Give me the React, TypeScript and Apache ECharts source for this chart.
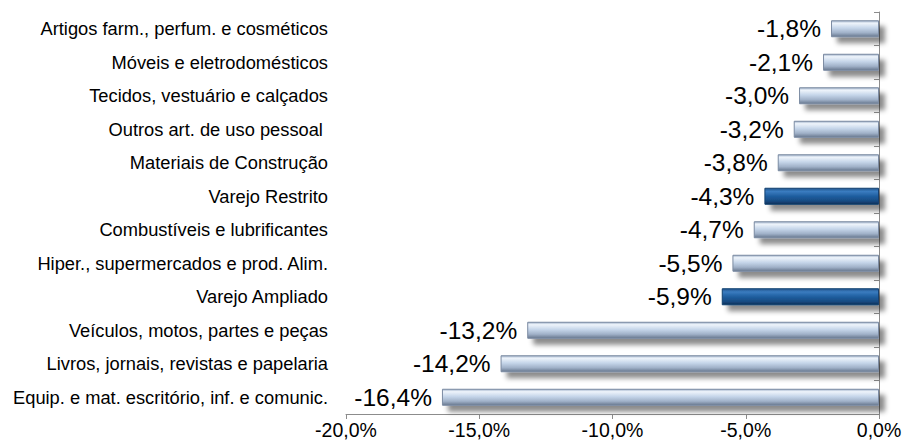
import React, { useEffect, useRef } from "react";
import * as echarts from "echarts";

const categories = [
  "Artigos farm., perfum. e cosméticos",
  "Móveis e eletrodomésticos",
  "Tecidos, vestuário e calçados",
  "Outros art. de uso pessoal ",
  "Materiais de Construção",
  "Varejo Restrito",
  "Combustíveis e lubrificantes",
  "Hiper., supermercados e prod. Alim.",
  "Varejo Ampliado",
  "Veículos, motos, partes e peças",
  "Livros, jornais, revistas e papelaria",
  "Equip. e mat. escritório, inf. e comunic.",
];
const values = [-1.8, -2.1, -3.0, -3.2, -3.8, -4.3, -4.7, -5.5, -5.9, -13.2, -14.2, -16.4];
const highlighted = ["Varejo Restrito", "Varejo Ampliado"];

const fmt = (v: number) => v.toFixed(1).replace(".", ",") + "%";
const FONT = "'Liberation Sans', Arial, sans-serif";

const lightGrad = new echarts.graphic.LinearGradient(0, 0, 0, 1, [
  { offset: 0, color: "#9fb1c9" },
  { offset: 0.15, color: "#eef4fb" },
  { offset: 0.45, color: "#c6d6ea" },
  { offset: 0.75, color: "#a0b1c8" },
  { offset: 1, color: "#67778e" },
]);
const darkGrad = new echarts.graphic.LinearGradient(0, 0, 0, 1, [
  { offset: 0, color: "#23558c" },
  { offset: 0.2, color: "#3a7cc0" },
  { offset: 0.5, color: "#1f5e9f" },
  { offset: 0.8, color: "#174b82" },
  { offset: 1, color: "#0d2f57" },
]);

export default function App() {
  const ref = useRef<HTMLDivElement>(null);
  useEffect(() => {
    if (!ref.current) return;
    const chart = echarts.init(ref.current, undefined, { renderer: "svg" });
    chart.setOption({
      animation: false,
      backgroundColor: "#ffffff",
      grid: { left: 346, right: 26, top: 12, bottom: 33 },
      xAxis: {
        type: "value",
        min: -20,
        max: 0,
        interval: 5,
        splitLine: { show: false },
        axisLine: { show: true, onZero: false, lineStyle: { color: "#8c8c8c" } },
        axisTick: { show: true, length: 5, lineStyle: { color: "#8c8c8c" } },
        axisLabel: {
          formatter: (v: number) => fmt(v),
          color: "#000",
          fontSize: 19.5,
          fontFamily: FONT,
          margin: 6,
        },
      },
      yAxis: [
        {
          type: "category",
          data: categories,
          inverse: true,
          position: "left",
          axisLine: { show: false, onZero: false },
          axisTick: { show: false },
          axisLabel: {
            color: "#000",
            fontSize: 18.3,
            fontFamily: FONT,
            margin: 18,
          },
        },
        {
          type: "category",
          data: categories,
          inverse: true,
          position: "right",
          axisLine: { show: true, onZero: false, lineStyle: { color: "#8c8c8c" } },
          axisTick: { show: true, inside: true, length: 5, lineStyle: { color: "#8c8c8c" } },
          axisLabel: { show: false },
        },
      ],
      series: [
        {
          type: "bar",
          yAxisIndex: 0,
          barWidth: 17,
          data: values.map((v, i) => ({
            value: v,
            itemStyle: {
              color: highlighted.includes(categories[i]) ? darkGrad : lightGrad,
              borderColor: highlighted.includes(categories[i]) ? "#12406f" : "#7b8ba2",
              borderWidth: 1,
              shadowColor: "rgba(0,0,0,0.45)",
              shadowBlur: 5,
              shadowOffsetX: 6,
              shadowOffsetY: 6,
            },
          })),
          label: {
            show: true,
            position: "left",
            distance: 10,
            formatter: (p: any) => fmt(p.value),
            color: "#000",
            fontSize: 24.5,
            fontFamily: FONT,
          },
        },
      ],
    });
    return () => chart.dispose();
  }, []);
  return <div ref={ref} style={{ width: 905, height: 447, position: "absolute", left: 0, top: 0 }} />;
}
